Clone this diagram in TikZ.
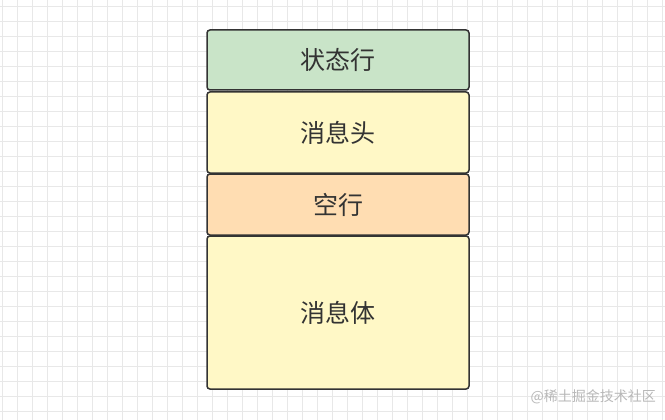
\documentclass[tikz,border=0pt]{standalone}
\usepackage{fontspec}
\newfontfamily\cjk{Noto Sans CJK SC}
\definecolor{gridline}{HTML}{E8E8E8}
\definecolor{boxline}{HTML}{333333}
\definecolor{statusgreen}{HTML}{C9E4C8}
\definecolor{lightyellow}{HTML}{FFF8C6}
\definecolor{peach}{HTML}{FFDDB2}
\definecolor{textgray}{HTML}{333333}

\begin{document}
\begin{tikzpicture}[x=1pt, y=-1pt,
  box/.style={draw=boxline, line width=1.5pt, rounded corners=3pt,
    minimum width=262pt, inner sep=0pt, text=textgray,
    font=\cjk\fontsize{25}{25}\selectfont}]
  \useasboundingbox (0,0) rectangle (665,420);
  \fill[white] (0,0) rectangle (665,420);
  % Light background grid, 15px apart.
  \foreach \i in {0,...,44}
    \draw[gridline, line width=0.8pt] ({2.3+15*\i},0) -- ({2.3+15*\i},420);
  \foreach \i in {0,...,27}
    \draw[gridline, line width=0.8pt] (0,{6.7+15*\i}) -- (665,{6.7+15*\i});
  % The four stacked parts of the message.
  \node[box, fill=statusgreen, minimum height=60pt] (status) at (338,60) {状态行};
  \node[box, fill=lightyellow, minimum height=81pt] (header) at (338,132.5) {消息头};
  \node[box, fill=peach, minimum height=61pt] (blank) at (338,204.5) {空行};
  \node[box, fill=lightyellow, minimum height=153pt] (body) at (338,312.5) {消息体};
  % Watermark in the lower right corner.
  \node[anchor=east, text=black!28, inner sep=0pt,
    font=\cjk\fontsize{14}{14}\selectfont] (mark) at (656,397) {@稀土掘金技术社区};
\end{tikzpicture}
\end{document}
